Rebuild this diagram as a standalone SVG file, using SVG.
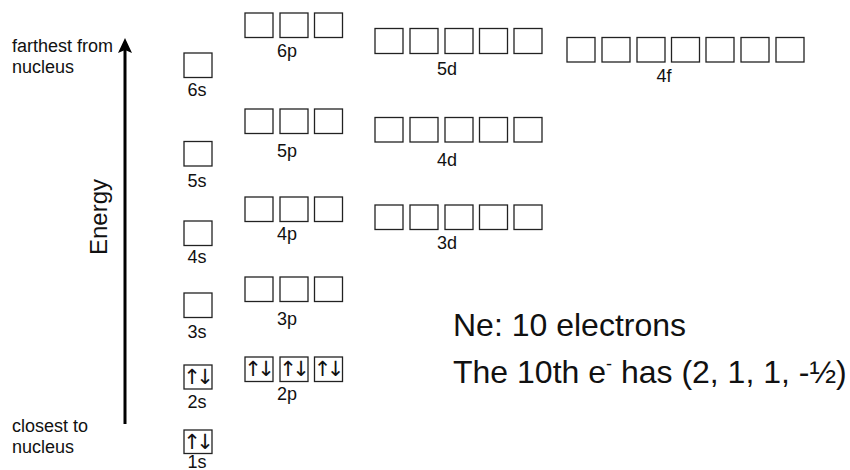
<svg xmlns="http://www.w3.org/2000/svg" width="850" height="470" viewBox="0 0 850 470">
<style>
.box{fill:#fff;stroke:#222;stroke-width:1.3}
.lbl{font-family:"Liberation Sans",Arial,sans-serif;font-size:18px;fill:#111;text-anchor:middle}
.side{font-family:"Liberation Sans",Arial,sans-serif;font-size:18px;fill:#111}
.big{font-family:"Liberation Sans",Arial,sans-serif;font-size:32px;fill:#111}
.el{font-family:"DejaVu Sans",sans-serif;font-size:21px;fill:#111;text-anchor:middle}
</style>
<rect width="850" height="470" fill="#fff"/>
<g id="connectors">
<line x1="125" y1="424" x2="125" y2="42" stroke="#000" stroke-width="3"/>
<path d="M125,38 L132,53 L125,50 L118,53 Z" fill="#000"/>
</g>
<g id="axis-labels">
<text class="side" x="12" y="52">farthest from</text>
<text class="side" x="12" y="73">nucleus</text>
<text class="side" x="12" y="432">closest to</text>
<text class="side" x="12" y="453">nucleus</text>
<text class="side" style="font-size:24px;text-anchor:middle" transform="translate(107,217) rotate(-90)">Energy</text>
</g>
<g id="s6"><rect class="box" x="184" y="53" width="28" height="24.5"/><text class="lbl" x="197" y="96">6s</text></g>
<g id="s5"><rect class="box" x="184" y="141.5" width="28" height="24.5"/><text class="lbl" x="197" y="187">5s</text></g>
<g id="s4"><rect class="box" x="184" y="221" width="28" height="24.5"/><text class="lbl" x="197" y="263">4s</text></g>
<g id="s3"><rect class="box" x="184" y="293" width="28" height="24.5"/><text class="lbl" x="197" y="338">3s</text></g>
<g id="s2"><rect class="box" x="184" y="365" width="28" height="24"/><text class="el" y="384"><tspan x="192">↑</tspan><tspan x="205">↓</tspan></text><text class="lbl" x="197" y="408">2s</text></g>
<g id="s1"><rect class="box" x="184" y="430" width="28" height="23.5"/><text class="el" y="449"><tspan x="192">↑</tspan><tspan x="205">↓</tspan></text><text class="lbl" x="197" y="467.5">1s</text></g>
<g id="p6"><rect class="box" x="245" y="13" width="28" height="24.5"/><rect class="box" x="280" y="13" width="28" height="24.5"/><rect class="box" x="314.5" y="13" width="28" height="24.5"/><text class="lbl" x="287" y="57">6p</text></g>
<g id="p5"><rect class="box" x="245" y="109" width="28" height="24.5"/><rect class="box" x="280" y="109" width="28" height="24.5"/><rect class="box" x="314.5" y="109" width="28" height="24.5"/><text class="lbl" x="287" y="157">5p</text></g>
<g id="p4"><rect class="box" x="245" y="197" width="28" height="24.5"/><rect class="box" x="280" y="197" width="28" height="24.5"/><rect class="box" x="314.5" y="197" width="28" height="24.5"/><text class="lbl" x="287" y="240">4p</text></g>
<g id="p3"><rect class="box" x="245" y="277" width="28" height="24.5"/><rect class="box" x="280" y="277" width="28" height="24.5"/><rect class="box" x="314.5" y="277" width="28" height="24.5"/><text class="lbl" x="287" y="325">3p</text></g>
<g id="p2"><rect class="box" x="245" y="357" width="28" height="24.5"/><rect class="box" x="280" y="357" width="28" height="24.5"/><rect class="box" x="314.5" y="357" width="28" height="24.5"/><text class="el" y="376"><tspan x="253">↑</tspan><tspan x="266">↓</tspan><tspan x="288">↑</tspan><tspan x="301">↓</tspan><tspan x="322.5">↑</tspan><tspan x="335.5">↓</tspan></text><text class="lbl" x="287" y="400">2p</text></g>
<g id="d5"><rect class="box" x="375" y="28.5" width="28" height="25"/><rect class="box" x="410" y="28.5" width="28" height="25"/><rect class="box" x="445" y="28.5" width="28" height="25"/><rect class="box" x="479.5" y="28.5" width="28" height="25"/><rect class="box" x="514" y="28.5" width="28" height="25"/><text class="lbl" x="447" y="75">5d</text></g>
<g id="d4"><rect class="box" x="375" y="117.5" width="28" height="24.5"/><rect class="box" x="410" y="117.5" width="28" height="24.5"/><rect class="box" x="445" y="117.5" width="28" height="24.5"/><rect class="box" x="479.5" y="117.5" width="28" height="24.5"/><rect class="box" x="514" y="117.5" width="28" height="24.5"/><text class="lbl" x="447" y="166">4d</text></g>
<g id="d3"><rect class="box" x="375" y="205" width="28" height="24.5"/><rect class="box" x="410" y="205" width="28" height="24.5"/><rect class="box" x="445" y="205" width="28" height="24.5"/><rect class="box" x="479.5" y="205" width="28" height="24.5"/><rect class="box" x="514" y="205" width="28" height="24.5"/><text class="lbl" x="447" y="249">3d</text></g>
<g id="f4"><rect class="box" x="567" y="37.5" width="28" height="24.5"/><rect class="box" x="602" y="37.5" width="28" height="24.5"/><rect class="box" x="637" y="37.5" width="28" height="24.5"/><rect class="box" x="671.5" y="37.5" width="28" height="24.5"/><rect class="box" x="706" y="37.5" width="28" height="24.5"/><rect class="box" x="741" y="37.5" width="28" height="24.5"/><rect class="box" x="776" y="37.5" width="28" height="24.5"/><text class="lbl" x="664" y="82">4f</text></g>
<g id="note">
<text class="big" x="453" y="336">Ne: 10 electrons</text>
<text class="big" x="453" y="383">The 10th e<tspan font-size="18" dy="-13">-</tspan><tspan dy="13"> has (2, 1, 1, -½)</tspan></text>
</g>
</svg>
